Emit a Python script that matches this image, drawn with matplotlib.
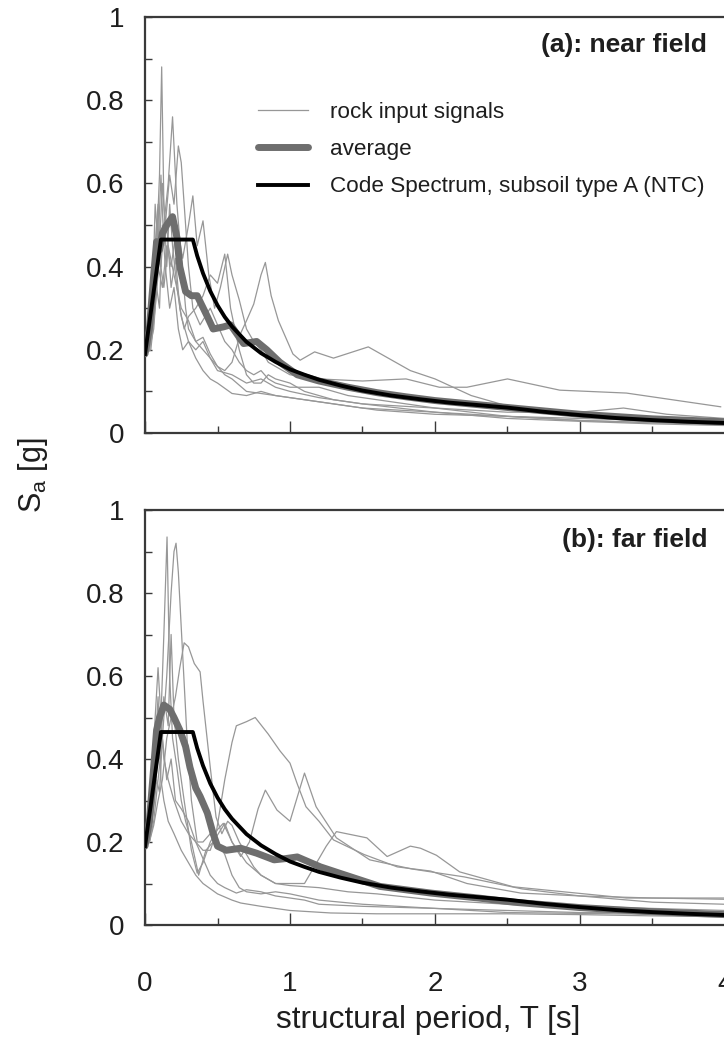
import matplotlib
matplotlib.use("Agg")
import matplotlib.pyplot as plt
from matplotlib.ticker import MultipleLocator

plt.rcParams['font.family'] = ['Liberation Sans', 'DejaVu Sans']
plt.rcParams['mathtext.fontset'] = 'custom'
plt.rcParams['mathtext.rm'] = 'Liberation Sans'
plt.rcParams['mathtext.it'] = 'Liberation Sans'

# ---------------- data ----------------
code_T = [0, 0.11, 0.33, 0.36, 0.4, 0.45, 0.5, 0.55, 0.6, 0.7, 0.8, 0.9, 1.0, 1.1, 1.2,
          1.35, 1.5, 1.7, 1.9, 2.1, 2.3, 2.5, 2.75, 3.0, 3.25, 3.5, 3.75, 4.0]
code_Sa = [0.19, 0.465, 0.465, 0.426, 0.384, 0.341, 0.307, 0.279, 0.256, 0.219, 0.192, 0.171,
           0.153, 0.140, 0.128, 0.114, 0.102, 0.090, 0.081, 0.073, 0.067, 0.061, 0.051, 0.043,
           0.036, 0.031, 0.027, 0.024]

# near field: rock input signals
near_s1 = [(0, 0.19), (0.03, 0.22), (0.06, 0.35), (0.08, 0.45), (0.10, 0.62), (0.115, 0.88), (0.13, 0.55),
           (0.15, 0.40), (0.17, 0.55), (0.19, 0.45), (0.22, 0.35), (0.25, 0.28), (0.3, 0.22), (0.35, 0.20),
           (0.4, 0.22), (0.45, 0.18), (0.5, 0.15), (0.6, 0.14), (0.7, 0.12), (0.8, 0.13), (0.9, 0.11),
           (1.0, 0.10), (1.2, 0.085), (1.5, 0.07), (2.0, 0.05), (2.5, 0.035), (3.0, 0.028), (3.5, 0.022),
           (4.0, 0.018)]
near_s2 = [(0, 0.19), (0.04, 0.25), (0.07, 0.45), (0.09, 0.55), (0.11, 0.4), (0.13, 0.5), (0.16, 0.6),
           (0.19, 0.76), (0.22, 0.55), (0.25, 0.42), (0.28, 0.3), (0.3, 0.25), (0.35, 0.22), (0.4, 0.23),
           (0.45, 0.19), (0.5, 0.16), (0.55, 0.14), (0.6, 0.13), (0.7, 0.10), (0.8, 0.095), (0.9, 0.09),
           (1.0, 0.085), (1.1, 0.08), (1.3, 0.07), (1.6, 0.055), (2.0, 0.045), (2.5, 0.04), (3.0, 0.03),
           (3.5, 0.025), (4.0, 0.02)]
near_s3 = [(0, 0.19), (0.03, 0.21), (0.06, 0.3), (0.08, 0.5), (0.10, 0.45), (0.12, 0.6), (0.14, 0.5),
           (0.17, 0.62), (0.2, 0.55), (0.23, 0.69), (0.25, 0.65), (0.28, 0.5), (0.3, 0.4), (0.33, 0.3),
           (0.38, 0.26), (0.45, 0.3), (0.5, 0.26), (0.55, 0.22), (0.6, 0.2), (0.65, 0.17), (0.7, 0.15),
           (0.75, 0.14), (0.8, 0.15), (0.85, 0.13), (0.9, 0.12), (1.0, 0.11), (1.2, 0.11), (1.4, 0.09),
           (1.7, 0.075), (2.0, 0.06), (2.5, 0.05), (3.0, 0.05), (3.3, 0.06), (3.6, 0.045), (4.0, 0.035)]
near_s4 = [(0, 0.19), (0.03, 0.2), (0.05, 0.3), (0.07, 0.55), (0.09, 0.45), (0.11, 0.62), (0.13, 0.45),
           (0.15, 0.5), (0.18, 0.35), (0.21, 0.42), (0.24, 0.3), (0.27, 0.25), (0.3, 0.28), (0.35, 0.3),
           (0.4, 0.33), (0.45, 0.38), (0.5, 0.36), (0.55, 0.43), (0.59, 0.3), (0.62, 0.25), (0.65, 0.2),
           (0.7, 0.14), (0.75, 0.12), (0.8, 0.12), (0.85, 0.14), (0.9, 0.13), (1.0, 0.12), (1.1, 0.1),
           (1.3, 0.08), (1.5, 0.07), (2.0, 0.06), (2.5, 0.04), (3.0, 0.03), (3.5, 0.025), (4.0, 0.02)]
near_s5 = [(0, 0.19), (0.04, 0.2), (0.07, 0.3), (0.1, 0.42), (0.13, 0.35), (0.16, 0.45), (0.2, 0.38),
           (0.25, 0.3), (0.3, 0.27), (0.35, 0.22), (0.4, 0.2), (0.45, 0.18), (0.5, 0.16), (0.55, 0.15),
           (0.6, 0.17), (0.66, 0.24), (0.7, 0.27), (0.75, 0.31), (0.8, 0.38), (0.83, 0.41), (0.87, 0.33),
           (0.92, 0.27), (0.97, 0.23), (1.02, 0.19), (1.07, 0.175), (1.17, 0.195), (1.30, 0.18),
           (1.54, 0.207), (1.83, 0.15), (2.0, 0.13), (2.25, 0.09), (2.5, 0.065), (3.0, 0.045),
           (3.5, 0.035), (4.0, 0.03)]
near_s6 = [(0, 0.19), (0.03, 0.2), (0.06, 0.28), (0.09, 0.4), (0.12, 0.35), (0.15, 0.45), (0.18, 0.4),
           (0.22, 0.5), (0.26, 0.42), (0.30, 0.5), (0.33, 0.57), (0.36, 0.45), (0.40, 0.51), (0.44, 0.38),
           (0.48, 0.3), (0.52, 0.35), (0.57, 0.43), (0.6, 0.38), (0.65, 0.32), (0.7, 0.25), (0.75, 0.22),
           (0.8, 0.2), (0.85, 0.17), (0.9, 0.16), (1.0, 0.14), (1.2, 0.13), (1.5, 0.125), (1.8, 0.13),
           (2.03, 0.11), (2.22, 0.11), (2.5, 0.13), (2.86, 0.103), (3.32, 0.096), (3.97, 0.063)]
near_s7 = [(0, 0.19), (0.03, 0.2), (0.06, 0.25), (0.08, 0.35), (0.1, 0.3), (0.12, 0.5), (0.14, 0.4),
           (0.17, 0.3), (0.2, 0.35), (0.23, 0.25), (0.26, 0.2), (0.3, 0.22), (0.35, 0.18), (0.4, 0.15),
           (0.45, 0.13), (0.5, 0.12), (0.6, 0.095), (0.7, 0.09), (0.8, 0.1), (0.9, 0.09), (1.0, 0.085),
           (1.2, 0.075), (1.5, 0.06), (2.0, 0.05), (2.5, 0.04), (3.0, 0.035), (3.5, 0.03), (4.0, 0.025)]
near_avg = [(0, 0.19), (0.03, 0.25), (0.06, 0.38), (0.08, 0.46), (0.1, 0.44), (0.12, 0.48), (0.15, 0.50),
            (0.19, 0.52), (0.22, 0.47), (0.24, 0.40), (0.28, 0.34), (0.32, 0.33), (0.36, 0.33),
            (0.43, 0.28), (0.47, 0.25), (0.54, 0.255), (0.59, 0.26), (0.68, 0.215), (0.77, 0.22),
            (0.84, 0.20), (0.93, 0.17), (1.05, 0.14), (1.2, 0.125), (1.4, 0.11), (1.6, 0.097),
            (1.8, 0.087), (2.0, 0.078), (2.3, 0.068), (2.6, 0.058), (3.0, 0.045), (3.5, 0.034),
            (4.0, 0.027)]

# far field: rock input signals
far_s1 = [(0, 0.19), (0.03, 0.22), (0.06, 0.3), (0.09, 0.4), (0.11, 0.5), (0.13, 0.7), (0.152, 0.935),
          (0.17, 0.6), (0.19, 0.45), (0.22, 0.38), (0.25, 0.3), (0.28, 0.25), (0.32, 0.2), (0.37, 0.12),
          (0.42, 0.18), (0.47, 0.2), (0.55, 0.245), (0.6, 0.2), (0.7, 0.15), (0.8, 0.12), (0.9, 0.1),
          (1.0, 0.1), (1.1, 0.1), (1.15, 0.13), (1.25, 0.19), (1.32, 0.225), (1.53, 0.21), (1.67, 0.165),
          (1.83, 0.19), (1.9, 0.185), (2.01, 0.168), (2.17, 0.128), (2.54, 0.092), (3.32, 0.065),
          (4.0, 0.065)]
far_s2 = [(0, 0.19), (0.03, 0.2), (0.06, 0.25), (0.09, 0.35), (0.12, 0.45), (0.15, 0.6), (0.18, 0.8),
          (0.2, 0.9), (0.214, 0.92), (0.23, 0.85), (0.26, 0.65), (0.29, 0.45), (0.32, 0.3), (0.36, 0.2),
          (0.4, 0.2), (0.45, 0.22), (0.5, 0.2), (0.55, 0.17), (0.6, 0.12), (0.65, 0.09), (0.7, 0.08),
          (0.8, 0.075), (0.9, 0.08), (1.0, 0.075), (1.2, 0.06), (1.5, 0.05), (2.0, 0.04), (2.5, 0.03),
          (3.0, 0.028), (3.5, 0.026), (4.0, 0.025)]
far_s3 = [(0, 0.19), (0.03, 0.2), (0.06, 0.24), (0.09, 0.3), (0.12, 0.35), (0.15, 0.45), (0.18, 0.5),
          (0.21, 0.55), (0.24, 0.62), (0.27, 0.68), (0.3, 0.67), (0.34, 0.63), (0.38, 0.61), (0.4, 0.54),
          (0.45, 0.38), (0.49, 0.26), (0.53, 0.22), (0.57, 0.25), (0.6, 0.24), (0.65, 0.2), (0.7, 0.17),
          (0.75, 0.14), (0.8, 0.12), (0.9, 0.1), (1.0, 0.095), (1.2, 0.09), (1.4, 0.08), (1.6, 0.075),
          (2.0, 0.06), (2.5, 0.05), (3.0, 0.045), (3.5, 0.04), (4.0, 0.035)]
far_s4 = [(0, 0.19), (0.03, 0.2), (0.05, 0.35), (0.07, 0.5), (0.09, 0.62), (0.11, 0.5), (0.13, 0.4),
          (0.16, 0.35), (0.2, 0.3), (0.25, 0.25), (0.3, 0.22), (0.35, 0.2), (0.4, 0.18), (0.45, 0.18),
          (0.49, 0.22), (0.55, 0.35), (0.6, 0.44), (0.63, 0.48), (0.7, 0.49), (0.76, 0.5), (0.85, 0.46),
          (0.93, 0.42), (1.0, 0.39), (1.05, 0.34), (1.11, 0.285), (1.2, 0.25), (1.3, 0.205), (1.51, 0.17),
          (1.74, 0.14), (1.97, 0.13), (2.22, 0.10), (2.59, 0.077), (3.0, 0.07), (3.5, 0.065), (4.0, 0.062)]
far_s5 = [(0, 0.19), (0.03, 0.21), (0.06, 0.3), (0.08, 0.45), (0.1, 0.4), (0.13, 0.55), (0.16, 0.48),
          (0.18, 0.7), (0.2, 0.5), (0.23, 0.4), (0.27, 0.3), (0.32, 0.18), (0.36, 0.125), (0.4, 0.15),
          (0.45, 0.2), (0.5, 0.23), (0.54, 0.245), (0.6, 0.2), (0.66, 0.165), (0.72, 0.2), (0.78, 0.28),
          (0.83, 0.325), (0.91, 0.277), (1.0, 0.25), (1.1, 0.366), (1.18, 0.285), (1.32, 0.21),
          (1.55, 0.157), (1.84, 0.135), (2.2, 0.116), (2.6, 0.087), (3.0, 0.07), (3.5, 0.055), (4.0, 0.05)]
far_s6 = [(0, 0.19), (0.03, 0.2), (0.06, 0.28), (0.08, 0.35), (0.1, 0.32), (0.12, 0.45), (0.15, 0.35),
          (0.18, 0.4), (0.21, 0.3), (0.25, 0.28), (0.3, 0.25), (0.35, 0.2), (0.4, 0.16), (0.45, 0.12),
          (0.5, 0.1), (0.55, 0.09), (0.63, 0.077), (0.7, 0.085), (0.8, 0.08), (0.9, 0.07), (1.0, 0.065),
          (1.1, 0.06), (1.2, 0.05), (1.5, 0.045), (2.0, 0.04), (2.5, 0.035), (3.0, 0.03), (3.5, 0.03),
          (4.0, 0.03)]
far_s7 = [(0, 0.19), (0.03, 0.2), (0.05, 0.25), (0.07, 0.42), (0.09, 0.55), (0.11, 0.35), (0.13, 0.3),
          (0.16, 0.25), (0.2, 0.22), (0.25, 0.18), (0.3, 0.15), (0.35, 0.12), (0.4, 0.1), (0.5, 0.075),
          (0.6, 0.06), (0.66, 0.053), (0.8, 0.045), (1.0, 0.035), (1.28, 0.029), (1.6, 0.027),
          (2.0, 0.027), (2.5, 0.027), (3.0, 0.025), (3.5, 0.022), (4.0, 0.02)]
far_avg = [(0, 0.19), (0.03, 0.25), (0.06, 0.38), (0.08, 0.47), (0.1, 0.50), (0.13, 0.53), (0.17, 0.52),
           (0.2, 0.50), (0.24, 0.47), (0.28, 0.43), (0.31, 0.38), (0.35, 0.33), (0.38, 0.31), (0.43, 0.27),
           (0.47, 0.22), (0.5, 0.19), (0.56, 0.18), (0.66, 0.185), (0.77, 0.173), (0.89, 0.157),
           (0.97, 0.16), (1.05, 0.164), (1.21, 0.14), (1.34, 0.125), (1.62, 0.093), (1.97, 0.077),
           (2.3, 0.065), (2.54, 0.055), (3.0, 0.042), (3.5, 0.032), (4.0, 0.025)]

near_signals = [near_s1, near_s2, near_s3, near_s4, near_s5, near_s6, near_s7]
far_signals = [far_s1, far_s2, far_s3, far_s4, far_s5, far_s6, far_s7]

panel_titles = ["(a): near field", "(b): far field"]
legend_labels = ["rock input signals", "average", "Code Spectrum, subsoil type A (NTC)"]
x_ticks = [0, 1, 2, 3, 4]
y_ticks = [0, 0.2, 0.4, 0.6, 0.8, 1]
y_tick_labels = ["0", "0.2", "0.4", "0.6", "0.8", "1"]

# ---------------- figure ----------------
W, H = 724, 1039
fig = plt.figure(figsize=(W / 100, H / 100), dpi=100)
left = 145 / W
width = (725 - 145) / W
ax1 = fig.add_axes([left, 1 - 433 / H, width, 416 / H])
ax2 = fig.add_axes([left, 1 - 925 / H, width, 415 / H])

sig_color = '#979797'
avg_color = '#6e6e6e'
txt_color = '#1e1e1e'
spine_color = '#3a3a3a'

for ax, sigs, avg, title, ty in [(ax1, near_signals, near_avg, panel_titles[0], 0.933),
                                  (ax2, far_signals, far_avg, panel_titles[1], 0.928)]:
    for i, s in enumerate(sigs):
        T = [p[0] for p in s]
        Sa = [p[1] for p in s]
        ax.plot(T, Sa, color=sig_color, lw=0.9, label=legend_labels[0] if i == 0 else None, zorder=2)
    ax.plot([p[0] for p in avg], [p[1] for p in avg], color=avg_color, lw=5,
            solid_capstyle='round', solid_joinstyle='round', label=legend_labels[1], zorder=3)
    ax.plot(code_T, code_Sa, color='black', lw=2.8, label=legend_labels[2], zorder=4)

    ax.set_xlim(0, 4)
    ax.set_ylim(0, 1)
    ax.xaxis.set_major_locator(MultipleLocator(1))
    ax.xaxis.set_minor_locator(MultipleLocator(0.5))
    ax.set_yticks(y_ticks)
    ax.set_yticklabels(y_tick_labels)
    ax.yaxis.set_minor_locator(MultipleLocator(0.1))
    ax.tick_params(axis='both', which='both', direction='in', colors=spine_color,
                   labelcolor=txt_color, width=1.0)
    ax.tick_params(axis='y', which='both', length=5, labelsize=20, pad=15)
    ax.tick_params(axis='x', which='major', length=9, labelsize=20, pad=33)
    ax.tick_params(axis='x', which='minor', length=5)
    for sp in ax.spines.values():
        sp.set_color(spine_color)
        sp.set_linewidth(1.6)
    ax.spines['right'].set_visible(False)
    ax.text(0.969, ty, title, transform=ax.transAxes, ha='right',
            va='center', fontsize=19, fontweight='bold', color=txt_color)

ax1.set_xticks(x_ticks)
ax1.tick_params(axis='x', labelbottom=False)
ax2.set_xticks(x_ticks)

leg = ax1.legend(loc='upper left', bbox_to_anchor=((258 - 145) / 580, (433 - 102) / 416),
                 frameon=False, fontsize=16.2, borderpad=0, borderaxespad=0,
                 handlelength=2.2, handletextpad=1.0, labelspacing=0.72)
for t in leg.get_texts():
    t.set_color(txt_color)

ax2.set_xlabel("structural period, T [s]", fontsize=22.8, color=txt_color, labelpad=9)
ax2.xaxis.set_label_coords((428 - 145) / 580, -0.2)
ax2.xaxis.label.set_va('center')
ax2.xaxis.set_label_coords((428 - 145) / 580, -(1020 - 925) / 415)
fig.text(33 / W, 1 - 475 / H, "S$_\\mathregular{a}$ [g]", rotation=90, ha='center', va='center',
         fontsize=22, color=txt_color)

fig.savefig("out.png", dpi=100)
